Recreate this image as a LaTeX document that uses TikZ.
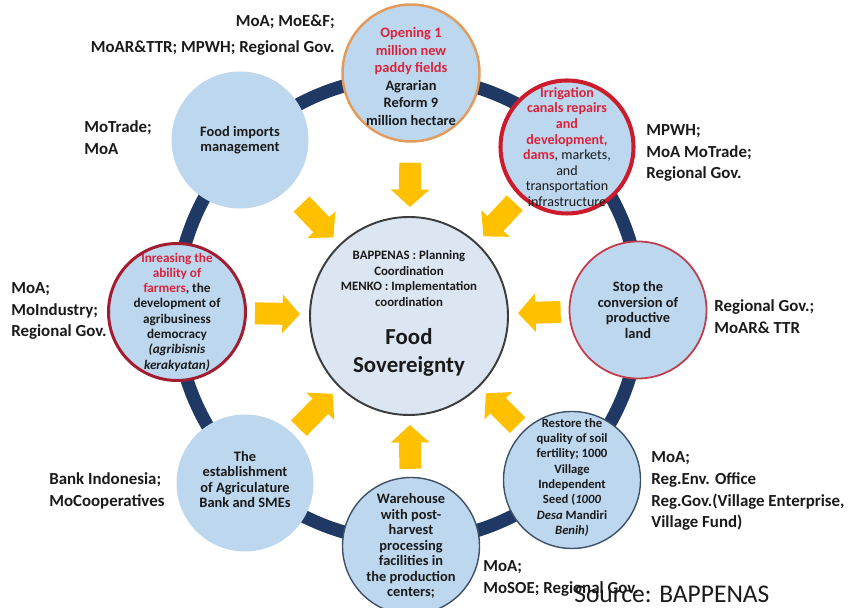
\documentclass[tikz,border=0pt]{standalone}
\usepackage{fontspec}
\setmainfont{Carlito}
\definecolor{SpotBlue}{HTML}{BDD7EE}
\definecolor{HubBlue}{HTML}{DCE6F2}
\definecolor{RingNavy}{HTML}{1F3864}
\definecolor{PushGold}{HTML}{FFC000}
\definecolor{AlertRed}{HTML}{D9233B}
\definecolor{PadRim}{HTML}{E39A5A}
\definecolor{IrrRim}{HTML}{CC1B2B}
\definecolor{LandRim}{HTML}{C23B4A}
\definecolor{FarmRim}{HTML}{A11D2F}
\definecolor{SlateRim}{HTML}{3F4F66}
\definecolor{Ink}{HTML}{1A1A1A}
\usetikzlibrary{arrows.meta}
\newcommand{\redpart}[1]{\textcolor{AlertRed}{\bfseries #1}}

\begin{document}
\begin{tikzpicture}[>=Stealth,
  spot/.style={circle, minimum size=2.74cm, inner sep=0pt, fill=SpotBlue},
  spottext/.style={align=center, inner sep=0pt, text=Ink,
                   font=\bfseries\fontsize{8.2}{8.8}\selectfont},
  agency/.style={align=left, inner sep=0pt, text=Ink,
                 font=\bfseries\fontsize{9.6}{12.5}\selectfont},
  push/.style={draw=PushGold, line width=12.5pt,
               -{Triangle[width=21.5pt, length=10pt]},
               shorten >=0.18cm, shorten <=0.16cm}]
  \useasboundingbox (0,0) rectangle (17,12.16);
  % Ring behind the goals
  \coordinate (O) at (8.16,5.98);
  \draw[RingNavy, line width=7.5pt] (O) circle (4.64);
  % Goals
  \node[spot, draw=PadRim, line width=1.4pt] (pad) at (8.22,10.70) {};
  \node[spot, draw=IrrRim, line width=2.3pt, minimum size=2.66cm] (irr) at (11.34,9.22) {};
  \node[spot, draw=LandRim, line width=1pt] (land) at (12.76,5.96) {};
  \node[spot, draw=SlateRim, line width=0.8pt] (soil) at (11.44,2.56) {};
  \node[spot, draw=SlateRim, line width=0.8pt] (ware) at (8.22,1.24) {};
  \node[spot] (bank) at (4.90,2.50) {};
  \node[spot, draw=FarmRim, line width=1.7pt] (farm) at (3.54,5.92) {};
  \node[spot] (imp) at (4.80,9.36) {};
  \node[spottext, font=\bfseries\fontsize{8.2}{10}\selectfont] (padtext) at ([yshift=-2pt]pad.center)
    {\redpart{Opening 1}\\\redpart{million new}\\\redpart{paddy fields}\\Agrarian\\Reform 9\\million hectare};
  \node[spottext, font=\fontsize{8}{8.9}\selectfont] (irrtext) at (irr)
    {\redpart{Irrigation}\\\redpart{canals repairs}\\\redpart{and}\\\redpart{development,}\\\redpart{dams}, markets,\\and\\transportation\\infrastructure};
  \node[spottext] (landtext) at (land) {Stop the\\conversion of\\productive\\land};
  \node[spottext, font=\bfseries\fontsize{7.2}{8.7}\selectfont] (soiltext) at ([yshift=1.5pt]soil.center)
    {Restore the\\quality of soil\\fertility; 1000\\Village\\Independent\\Seed (\textit{1000}\\\textit{Desa} Mandiri\\\textit{Benih)}};
  \node[spottext] (waretext) at (ware) {Warehouse\\with post-\\harvest\\processing\\facilities in\\the production\\centers;};
  \node[spottext] (banktext) at ([yshift=2pt]bank.center) {The\\establishment\\of Agriculature\\Bank and SMEs};
  \node[spottext, font=\bfseries\fontsize{7.5}{8.7}\selectfont] (farmtext) at (farm)
    {\redpart{Inreasing the}\\\redpart{ability of}\\\redpart{farmers}, the\\development of\\agribusiness\\democracy\\\textit{(agribisnis}\\\textit{kerakyatan)}};
  \node[spottext] (imptext) at (imp) {Food imports\\management};
  % Hub
  \node[circle, minimum size=3.96cm, fill=HubBlue, draw=Ink!85, line width=1.1pt] (food) at (8.18,5.84) {};
  \node[spottext, font=\bfseries\fontsize{7.3}{8.9}\selectfont] (plan) at (8.18,6.59)
    {BAPPENAS : Planning\\Coordination\\MENKO : Implementation\\coordination};
  \node[spottext, font=\bfseries\fontsize{13}{16}\selectfont] (sov) at (8.18,5.12) {Food\\Sovereignty};
  % Arrows into the hub
  \draw[push, shorten <=0.4cm] (pad) -- (food);
  \draw[push, shorten <=0.4cm] (imp) -- (food);
  \draw[push] (irr) -- (food);
  \draw[push] (land) -- (food);
  \draw[push] (soil) -- (food);
  \draw[push] (ware) -- (food);
  \draw[push] (bank) -- (food);
  \draw[push] (farm) -- (food);
  % Responsible agencies
  \node[agency, anchor=east, align=right, font=\bfseries\fontsize{9.6}{14.5}\selectfont] (padwho) at (6.70,11.46)
    {MoA; MoE\&F;\\MoAR\&TTR; MPWH; Regional Gov.};
  \node[agency, anchor=west] (impwho) at (1.68,9.40) {MoTrade;\\MoA};
  \node[agency, anchor=west] (irrwho) at (12.92,9.10) {MPWH;\\MoA MoTrade;\\Regional Gov.};
  \node[agency, anchor=west] (farmwho) at (0.22,5.94) {MoA;\\MoIndustry;\\Regional Gov.};
  \node[agency, anchor=west] (landwho) at (14.28,5.82) {Regional Gov.;\\MoAR\& TTR};
  \node[agency, anchor=west] (soilwho) at (13.02,2.34) {MoA;\\Reg.Env. Office\\Reg.Gov.(Village Enterprise,\\Village Fund)};
  \node[agency, anchor=west] (bankwho) at (0.98,2.34) {Bank Indonesia;\\MoCooperatives};
  \node[agency, anchor=west] (warewho) at (9.66,0.60) {MoA;\\MoSOE; Regional Gov.};
  \node[anchor=west, inner sep=0pt, text=Ink, font=\fontsize{14.5}{16}\selectfont] (source) at (11.48,0.28) {Source: BAPPENAS};
\end{tikzpicture}
\end{document}
